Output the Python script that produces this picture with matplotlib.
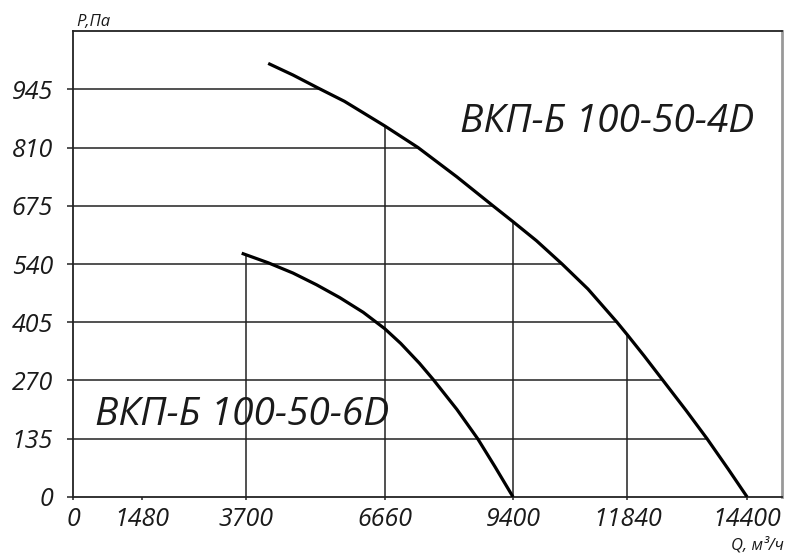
import numpy as np
import matplotlib
matplotlib.use("Agg")
import matplotlib.pyplot as plt

# ---- data ----
q_4d = [4170, 4700, 5234, 5800, 6660, 7370, 8200, 8970, 9400, 9900, 10447,
        11000, 11621, 11840, 12200, 12604, 13100, 13544, 14000, 14400]
p_4d = [1005, 978, 948, 917, 860, 810, 742, 675, 638, 594, 540,
        482, 405, 376, 327, 270, 200, 135, 64, 0]

q_6d = [3604, 4166, 4700, 5200, 5700, 6200, 6660, 7000, 7400, 7697,
        8200, 8645, 9015, 9400]
p_6d = [565, 543, 519, 492, 462, 428, 390, 356, 310, 272,
        203, 135, 70, 0]

x_ticks = [0, 1480, 3700, 6660, 9400, 11840, 14400]
y_ticks = [0, 135, 270, 405, 540, 675, 810, 945]
v_lines_6d = [3700]
v_lines_4d = [6660, 9400, 11840]

label_4d = "ВКП-Б 100-50-4D"
label_6d = "ВКП-Б 100-50-6D"

plt.rcParams['font.family'] = ['Open Sans', 'Liberation Sans', 'DejaVu Sans']
plt.rcParams['font.style'] = 'italic'
txt = '#1a1a1a'

fig = plt.figure(figsize=(7.88, 5.53), dpi=100)
ax = fig.add_axes([0.0926, 0.1013, 0.8998, 0.8426])

# grid lines stop at the curves
q4 = np.array(q_4d); p4 = np.array(p_4d)
q6 = np.array(q_6d); p6 = np.array(p_6d)
for lvl in y_ticks[1:]:
    qe = np.interp(lvl, p4[::-1], q4[::-1])
    ax.plot([0, qe], [lvl, lvl], color='#222222', lw=1.1, zorder=1)
for q in v_lines_6d:
    ax.plot([q, q], [0, np.interp(q, q6, p6)], color='#222222', lw=1.1, zorder=1)
for q in v_lines_4d:
    ax.plot([q, q], [0, np.interp(q, q4, p4)], color='#222222', lw=1.1, zorder=1)

ax.plot(q_4d, p_4d, color='black', lw=2.3, solid_capstyle='butt',
        solid_joinstyle='round', zorder=3)
ax.plot(q_6d, p_6d, color='black', lw=2.3, solid_capstyle='butt',
        solid_joinstyle='round', zorder=3)

ax.text(8267, 845, label_4d, fontsize=28, color=txt, ha='left', va='baseline')
ax.text(470, 167, label_6d, fontsize=28, color=txt, ha='left', va='baseline')

ax.set_xlim(0, 15145)
ax.set_ylim(0, 1080)
ax.set_xticks(x_ticks)
ax.set_yticks(y_ticks)
ax.tick_params(axis='y', direction='out', length=4.3, width=1.1, color='#222222',
               pad=10, labelsize=18, labelcolor=txt)
ax.tick_params(axis='x', direction='out', length=2.5, width=1.1, color='#222222',
               pad=5, labelsize=18, labelcolor=txt)

for s in ['left', 'bottom', 'top']:
    ax.spines[s].set_color('#222222')
    ax.spines[s].set_linewidth(1.3)
ax.spines['right'].set_color('#999999')
ax.spines['right'].set_linewidth(2)

fig.text(76 / 788, 1 - 26 / 553, "Р,Па", fontsize=12, color=txt, ha='left', va='baseline')
fig.text(784 / 788, 1 - 549 / 553, "Q, м³/ч", fontsize=12, color=txt, ha='right', va='baseline')

fig.savefig("out.png", dpi=100)
